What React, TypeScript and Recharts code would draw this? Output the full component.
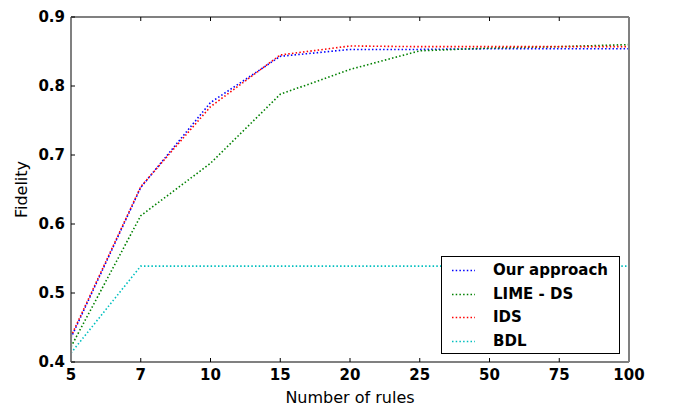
import { LineChart, Line, XAxis, YAxis, Label } from 'recharts'

const ruleCounts = ['5', '7', '10', '15', '20', '25', '50', '75', '100']
const ourApproach = [0.435, 0.653, 0.776, 0.843, 0.853, 0.853, 0.854, 0.854, 0.854]
const limeDs = [0.422, 0.612, 0.688, 0.788, 0.824, 0.851, 0.855, 0.857, 0.86]
const ids = [0.437, 0.654, 0.77, 0.845, 0.858, 0.857, 0.857, 0.857, 0.857]
const bdl = [0.413, 0.539, 0.539, 0.539, 0.539, 0.539, 0.539, 0.539, 0.539]
const yTicks = [0.4, 0.5, 0.6, 0.7, 0.8, 0.9]

const series = [
  { key: 'ours', name: 'Our approach', values: ourApproach, color: '#0000ff' },
  { key: 'lime', name: 'LIME - DS', values: limeDs, color: '#008000' },
  { key: 'ids', name: 'IDS', values: ids, color: '#ff0000' },
  { key: 'bdl', name: 'BDL', values: bdl, color: '#00bfbf' },
]

const chartData = ruleCounts.map((cat, i) => {
  const row: { [k: string]: string | number } = { cat }
  series.forEach((s) => {
    row[s.key] = s.values[i]
  })
  return row
})

const frame = '#808080'
const tickFont = { fontFamily: 'DejaVu Sans', fontSize: 15, fontWeight: 'bold', fill: '#000' }
const labelFont = { fontFamily: 'DejaVu Sans', fontSize: 16, fill: '#000' }
const dots = '1.5 2.2'

const Legend = () => (
  <div
    style={{
      position: 'absolute',
      left: 441,
      top: 256,
      width: 179,
      height: 98,
      border: '1px solid #000',
      background: '#fff',
      boxSizing: 'border-box',
    }}
  >
    {series.map((s, i) => (
      <div
        key={s.key}
        style={{ position: 'absolute', left: 0, top: 3 + i * 23.5, height: 22, width: 178 }}
      >
        <svg width={40} height={22} style={{ position: 'absolute', left: 0, top: 0 }}>
          <line x1={10} x2={33} y1={10.5} y2={10.5} stroke={s.color} strokeWidth={1.6} strokeDasharray={dots} />
        </svg>
        <span
          style={{
            position: 'absolute',
            left: 51,
            top: 1,
            fontFamily: 'DejaVu Sans',
            fontWeight: 'bold',
            fontSize: 15,
            lineHeight: '18px',
            whiteSpace: 'nowrap',
          }}
        >
          {s.name}
        </span>
      </div>
    ))}
  </div>
)

export default function App() {
  return (
    <div style={{ position: 'absolute', left: 0, top: 0, width: 673, height: 409 }}>
      <LineChart
        width={673}
        height={409}
        data={chartData}
        margin={{ top: 17, right: 44, left: 11, bottom: 6 }}
      >
        <XAxis
          dataKey="cat"
          type="category"
          height={41}
          interval={0}
          tickSize={-4}
          tickMargin={11}
          tick={tickFont}
          tickLine={{ stroke: '#000' }}
          axisLine={{ stroke: frame, strokeWidth: 2 }}
        >
          <Label value="Number of rules" position="insideBottom" offset={0} style={labelFont} />
        </XAxis>
        <XAxis
          xAxisId="top"
          dataKey="cat"
          type="category"
          orientation="top"
          mirror
          height={1}
          interval={0}
          tickSize={4}
          tickFormatter={() => ''}
          tickLine={{ stroke: '#000' }}
          axisLine={{ stroke: frame, strokeWidth: 2 }}
        />
        <YAxis
          domain={[0.4, 0.9]}
          ticks={yTicks}
          type="number"
          width={60}
          interval={0}
          tickSize={-4}
          tickMargin={10}
          tickFormatter={(v: number) => v.toFixed(1)}
          tick={tickFont}
          tickLine={{ stroke: '#000' }}
          axisLine={{ stroke: frame, strokeWidth: 2 }}
        >
          <Label value="Fidelity" angle={-90} position="insideLeft" offset={10} style={{ ...labelFont, textAnchor: 'middle' }} />
        </YAxis>
        <YAxis
          yAxisId="right"
          orientation="right"
          mirror
          width={1}
          domain={[0.4, 0.9]}
          ticks={yTicks}
          type="number"
          interval={0}
          tickSize={4}
          tickFormatter={() => ''}
          tickLine={{ stroke: '#000' }}
          axisLine={{ stroke: frame, strokeWidth: 2 }}
        />
        {series.map((s) => (
          <Line
            key={s.key}
            dataKey={s.key}
            name={s.name}
            type="linear"
            stroke={s.color}
            strokeWidth={1.6}
            strokeDasharray={dots}
            dot={false}
            activeDot={false}
            isAnimationActive={false}
          />
        ))}
      </LineChart>
      <Legend />
    </div>
  )
}
